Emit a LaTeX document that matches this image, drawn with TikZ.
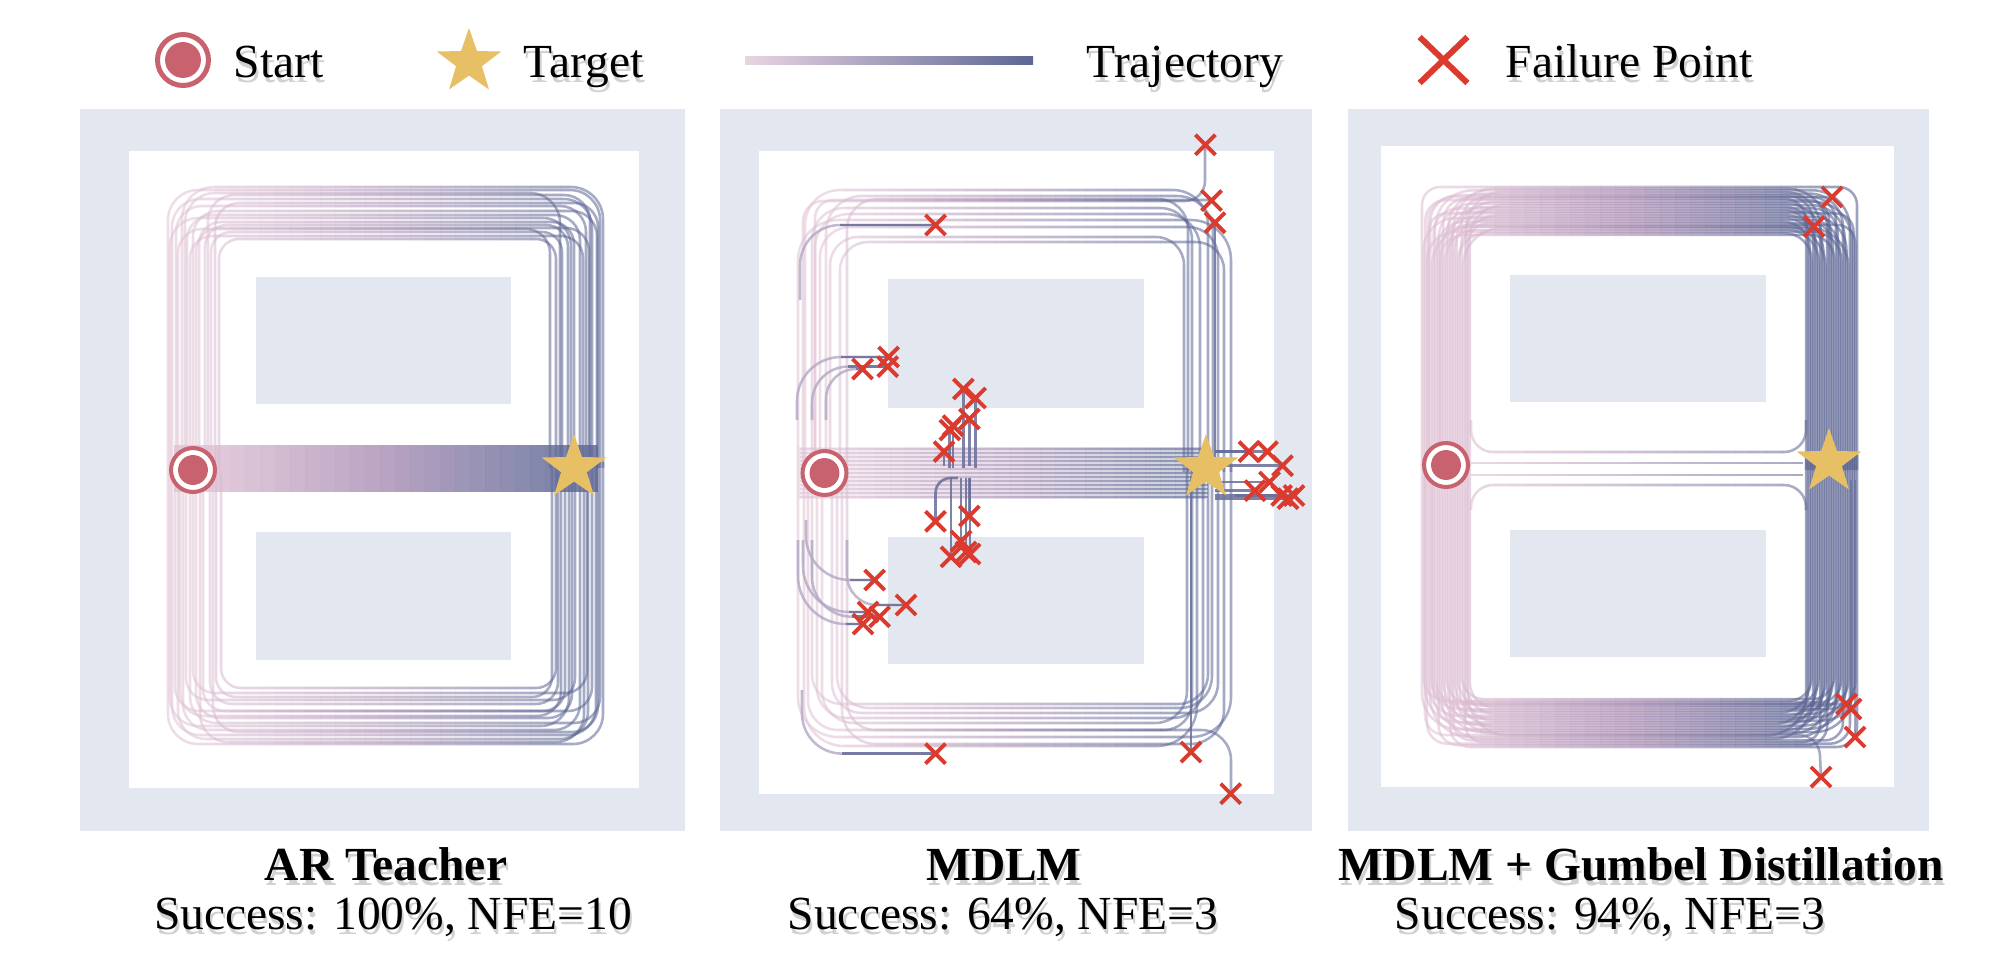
\documentclass[tikz,border=0pt]{standalone}
\usepackage{fontspec}
\setmainfont{Liberation Serif}
\usetikzlibrary{shapes.geometric,shapes.misc}

\definecolor{wallgray}{RGB}{227,231,239}
\definecolor{trajA}{RGB}{224,194,213}
\definecolor{trajM}{RGB}{170,142,180}
\definecolor{trajB}{RGB}{92,102,148}
\definecolor{startred}{RGB}{200,98,110}
\definecolor{stargold}{RGB}{231,191,100}
\definecolor{failred}{RGB}{219,58,46}
\definecolor{failline}{RGB}{104,110,152}
\definecolor{failcurve}{RGB}{178,168,196}
\colorlet{tc}{trajA}

% draw a set of paths with a left-to-right colour ramp, strip by strip
\newcommand\rampdraw[4]{%
  \begin{scope}
    \clip (0,0) rectangle (#1,978);
    \colorlet{tc}{trajA}%
    #4
  \end{scope}
  \begin{scope}
    \clip (#2,0) rectangle (2002,978);
    \colorlet{tc}{trajB}%
    #4
  \end{scope}
  \foreach \k in {1,...,#3}{%
    \pgfmathsetmacro\rampxa{#1+(\k-1)*(#2-#1)/#3}%
    \pgfmathsetmacro\rampxb{#1+\k*(#2-#1)/#3}%
    \pgfmathsetmacro\rampt{(\k-0.5)/#3}%
    \pgfmathsetmacro\ramppct{\rampt<0.5 ? 200*\rampt : 200*\rampt-100}%
    \begin{scope}
      \ifdim\rampt pt<0.5pt\relax
        \colorlet{tc}{trajM!\ramppct!trajA}%
      \else
        \colorlet{tc}{trajB!\ramppct!trajM}%
      \fi
      \clip (\rampxa,0) rectangle (\rampxb,978);
      #4
    \end{scope}
  }%
}

\newcommand\pathsAR{%
  \foreach \xl/\yy/\xr/\rr in {168/190/600/30, 172/199/592/28, 176/206/586/26, 182/187/603/32,
      187/215/580/25, 193/211/597/25, 199/222/574/22, 205/225/568/22, 211/232/562/20,
      219/239/556/20, 178/229/550/24, 208/195/590/26, 190/236/583/22, 170/218/571/28,
      215/203/598/24, 196/228/589/23, 185/193/560/30}
    {\draw[traj, rounded corners=\rr*0.2845pt] (\xl,470) -- (\xl,\yy) -- (\xr,\yy) -- (\xr,468);}
  \foreach \xl/\yy/\xr/\rr in {168/744/603/30, 172/735/596/28, 178/739/588/28, 183/730/580/26,
      190/723/600/26, 196/718/572/24, 203/711/565/22, 210/704/558/22, 216/697/552/20,
      221/688/556/20, 175/711/592/24, 200/742/584/28, 186/700/575/22, 170/726/569/28,
      213/732/598/26, 193/693/587/22, 180/716/561/24}
    {\draw[traj, rounded corners=\rr*0.2845pt] (\xl,470) -- (\xl,\yy) -- (\xr,\yy) -- (\xr,462);}
  \foreach \yy in {446,448.5,...,493}
    {\draw[bandl] (174,\yy) -- (598,\yy);}
}

\newcommand\pathsMD{%
  \fill[tc, fill opacity=0.3] (798,447) rectangle (1206,499);
  \foreach \yy in {449,453,...,497}
    {\draw[traj] (800,\yy) -- (1208,\yy);}
  \foreach \xl/\yy/\xr/\rr in {798/220/1231/40, 805/190/1208/35, 812/208/1192/32, 820/227/1218/30,
      830/237/1184/28, 840/242/1224/28, 847/199/1188/30, 815/214/1200/34, 826/196/1213/36}
    {\draw[traj, rounded corners=\rr*0.2845pt] (\xl,474) -- (\xl,\yy) -- (\xr,\yy) -- (\xr,472);}
  \foreach \xl/\yy/\xr/\rr in {798/737/1231/40, 804/746/1197/40, 812/704/1208/30, 822/723/1187/32,
      832/713/1218/30, 842/744/1224/34, 847/730/1192/28, 817/718/1203/30, 837/708/1212/32}
    {\draw[traj, rounded corners=\rr*0.2845pt] (\xl,474) -- (\xl,\yy) -- (\xr,\yy) -- (\xr,465);}
  \draw[traj, rounded corners=20*0.2845pt] (803,474) -- (803,201) -- (1205,201) -- (1205,145);
  \draw[traj, rounded corners=18*0.2845pt] (815,474) -- (815,200) -- (1211.5,200);
  \draw[traj, rounded corners=30*0.2845pt] (808,474) -- (808,730) -- (1231,730) -- (1231,793.7);
}

\newcommand\pathsGD{%
  \foreach \k in {0,...,29}{%
    \pgfmathsetmacro\xl{1422+mod(7*\k,30)*1.65}%
    \pgfmathsetmacro\yy{187+mod(13*\k,30)*1.65}%
    \pgfmathsetmacro\xr{1857-mod(11*\k,30)*1.75}%
    \pgfmathsetmacro\rr{(18+mod(3*\k,11)*2.2)*0.2845}%
    \draw[traj3, rounded corners=\rr pt] (\xl,466) -- (\xl,\yy) -- (\xr,\yy) -- (\xr,470);
    \pgfmathsetmacro\xl{1422+mod(17*\k+3,30)*1.65}%
    \pgfmathsetmacro\yy{747-mod(19*\k+2,30)*1.65}%
    \pgfmathsetmacro\xr{1857-mod(23*\k+4,30)*1.75}%
    \pgfmathsetmacro\rr{(18+mod(4*\k+1,11)*2.2)*0.2845}%
    \draw[traj3, rounded corners=\rr pt] (\xl,464) -- (\xl,\yy) -- (\xr,\yy) -- (\xr,455);
  }
  \draw[traj, rounded corners=22*0.2845pt] (1471,420) -- (1471,452) -- (1806,452) -- (1806,420);
  \draw[traj] (1471,463) -- (1803,463);
  \draw[traj] (1471,475) -- (1803,475);
  \draw[traj, rounded corners=22*0.2845pt] (1471,510) -- (1471,485) -- (1806,485) -- (1806,510);
  \draw[traj, rounded corners=25*0.2845pt] (1428,466) -- (1428,197) -- (1832,197);
  \draw[traj, rounded corners=22*0.2845pt] (1440,466) -- (1440,226.5) -- (1814,226.5);
  \draw[traj, rounded corners=24*0.2845pt] (1432,466) -- (1432,704) -- (1846.5,704);
  \draw[traj, rounded corners=20*0.2845pt] (1425,466) -- (1425,735) -- (1819,735) -- (1821,777);
  \draw[traj] (1851,480) -- (1851,709);
  \draw[traj] (1855,480) -- (1855,737);
}

\newcommand\shtxt[4]{%
  \node[#3, opacity=0.18] (#1-sh) at ([shift={(2,5)}]#2) {#4};
  \node[#3] (#1) at (#2) {#4};
}

\begin{document}
\begin{tikzpicture}[x=0.01cm, y=-0.01cm,
  traj/.style={draw=tc, line width=0.72pt, draw opacity=0.55, line join=round},
  traj3/.style={traj, draw opacity=0.6},
  bandl/.style={traj, draw opacity=0.8},
  failtraj/.style={draw=failline, line width=0.75pt, draw opacity=0.85, line join=round},
  failarc/.style={draw=failcurve, line width=0.72pt, draw opacity=0.8, line join=round},
  failmark/.style={cross out, draw=failred, line width=1.1pt, minimum size=4.6pt, inner sep=0pt},
  ring/.style={circle, draw=startred, fill=white, inner sep=0pt},
  dot/.style={circle, fill=startred, inner sep=0pt},
  goal/.style={star, star points=5, star point ratio=2.5, fill=stargold, inner sep=0pt, minimum size=19.3pt},
  lbl/.style={font=\fontsize{13.5}{16}\selectfont, inner sep=0pt, anchor=base},
  lgd/.style={lbl, anchor=base west},
  ttl/.style={lbl, font=\fontsize{13.5}{16}\selectfont\bfseries},
]
\useasboundingbox (0,0) rectangle (2002,978);

% ---------- walls ----------
\fill[wallgray] (80,109) rectangle (684.5,830.5);
\fill[white] (129.4,150.5) rectangle (638.8,788);
\fill[wallgray] (256,277) rectangle (511,404);
\fill[wallgray] (256,532) rectangle (511,660);

\fill[wallgray] (720.4,109) rectangle (1312,830.5);
\fill[white] (759,150.5) rectangle (1273.5,793.7);
\fill[wallgray] (888,279) rectangle (1144,408);
\fill[wallgray] (888,536.5) rectangle (1144,664);

\fill[wallgray] (1348,109.4) rectangle (1928.7,830.5);
\fill[white] (1380.6,146) rectangle (1894,786.6);
\fill[wallgray] (1510,274.6) rectangle (1766,402);
\fill[wallgray] (1510,530) rectangle (1766,657);

% ---------- trajectories ----------
\rampdraw{200}{560}{24}{\pathsAR}
\rampdraw{830}{1175}{23}{\pathsMD}
\rampdraw{1450}{1810}{24}{\pathsGD}

% failing branches (MDLM): light bend, dark end
\foreach \ax/\ay/\bx/\by/\cx/\cy/\rr in {
   800/300/800/225/935.5/225/40,
   797/420/797/357/888.6/357/44,
   812/420/812/366.6/887.8/366.6/36,
   826/420/826/369/862.5/369/30,
   806/520/806/580/874.7/580/44,
   847/540/847/605/906/605/30,
   803/540/803/612/868/612/46,
   812/540/812/616.7/879.6/616.7/40,
   798/540/798/624/863/624/48,
   802/690/802/753.6/935.5/753.6/40}
  {\draw[failarc, rounded corners=\rr*0.2845pt] (\ax,\ay) -- (\bx,\by) -- (\cx,\cy);
   \draw[failtraj] (\bx+\rr,\by) -- (\cx,\cy);}
\draw[failtraj, rounded corners=15*0.2845pt] (958,478) -- (935.5,478) -- (935.5,521.4);
\foreach \ax/\ay/\bx/\by in {963.3/468/963.3/389, 975.5/468/975.5/398, 969.4/466/969.4/419,
   953/468/953/425.6, 949.8/468/949.8/430, 944/466/944/451.6, 969.4/478/969.4/516,
   961/478/961/541, 951/478/951/556.8, 970/478/970/554, 966/478/966/552,
   1215/468/1215/222.7, 1191/476/1191/752, 1215/451.6/1249/451.6, 1215/451.6/1267.4/451.6,
   1215/465.7/1282.5/465.7, 1215/482/1269.5/482, 1215/490.7/1255/490.7,
   1215/495.5/1281.7/495.5, 1235/495.5/1294/495.5, 1215/498.7/1288/498.7}
  {\draw[failtraj] (\ax,\ay) -- (\bx,\by);}

% ---------- start / target markers ----------
\node[ring, line width=1.14pt, minimum size=12.5pt] (s1) at (193,470) {};
\node[dot, minimum size=8.5pt] (s1c) at (193,470) {};
\node[goal] (t1) at (574,468) {};

\node[ring, line width=1.14pt, minimum size=12.5pt] (s2) at (824.5,473) {};
\node[dot, minimum size=8.5pt] (s2c) at (824.5,473) {};
\node[goal] (t2) at (1206,468) {};

\node[ring, line width=1.14pt, minimum size=12.5pt] (s3) at (1446,465) {};
\node[dot, minimum size=8.5pt] (s3c) at (1446,465) {};
\node[goal] (t3) at (1829,462) {};

% ---------- failure points ----------
\foreach \x/\y [count=\i] in {1205.4/144.8, 1211.5/200.5, 1215/222.7, 935.5/225, 888.6/357,
   887.8/366.6, 862.5/369, 963.3/389, 975.5/398, 969.4/419, 953/425.6, 949.8/430, 944/451.6,
   935.5/521.4, 969.4/516, 961/541, 951/556.8, 970/554, 966/552, 874.7/580, 906/605, 868/612,
   879.6/616.7, 863/624, 1249/451.6, 1267.4/451.6, 1282.5/465.7, 1269.5/482, 1255/490.7,
   1281.7/495.5, 1294/495.5, 1288/498.7, 935.5/753.6, 1191/752, 1230.7/793.7}
  {\node[failmark] (f2-\i) at (\x,\y) {};}
\foreach \x/\y [count=\i] in {1832/197, 1814/226.5, 1846.5/704, 1851/709, 1855/737, 1821/777}
  {\node[failmark] (f3-\i) at (\x,\y) {};}

% ---------- legend ----------
\node[ring, line width=1.42pt, minimum size=14.5pt] (lgs) at (183,60) {};
\node[dot, minimum size=10.2pt] (lgsc) at (183,60) {};
\shtxt{lgstart}{233,77.5}{lgd}{Start}
\node[goal] (lgt) at (469,62) {};
\shtxt{lgtarget}{523,77.5}{lgd}{Target}
\shade[left color=trajA!70!white, middle color=trajM, right color=trajB] (745,56) rectangle (1033,64);
\shtxt{lgtraj}{1086,77.5}{lgd}{Trajectory}
\node[failmark, minimum width=11.9pt, minimum height=11.4pt, line width=1.7pt] (lgf) at (1443.5,60) {};
\shtxt{lgfail}{1505,77.5}{lgd}{Failure Point}

% ---------- captions ----------
\shtxt{capA}{386,880}{ttl}{AR Teacher}
\shtxt{subA}{393,929}{lbl}{Success: 100\%, NFE=10}
\shtxt{capB}{1004,880}{ttl}{MDLM}
\shtxt{subB}{1003,929}{lbl}{Success: 64\%, NFE=3}
\shtxt{capC}{1641,880}{ttl}{MDLM + Gumbel Distillation}
\shtxt{subC}{1610,929}{lbl}{Success: 94\%, NFE=3}
\end{tikzpicture}
\end{document}
